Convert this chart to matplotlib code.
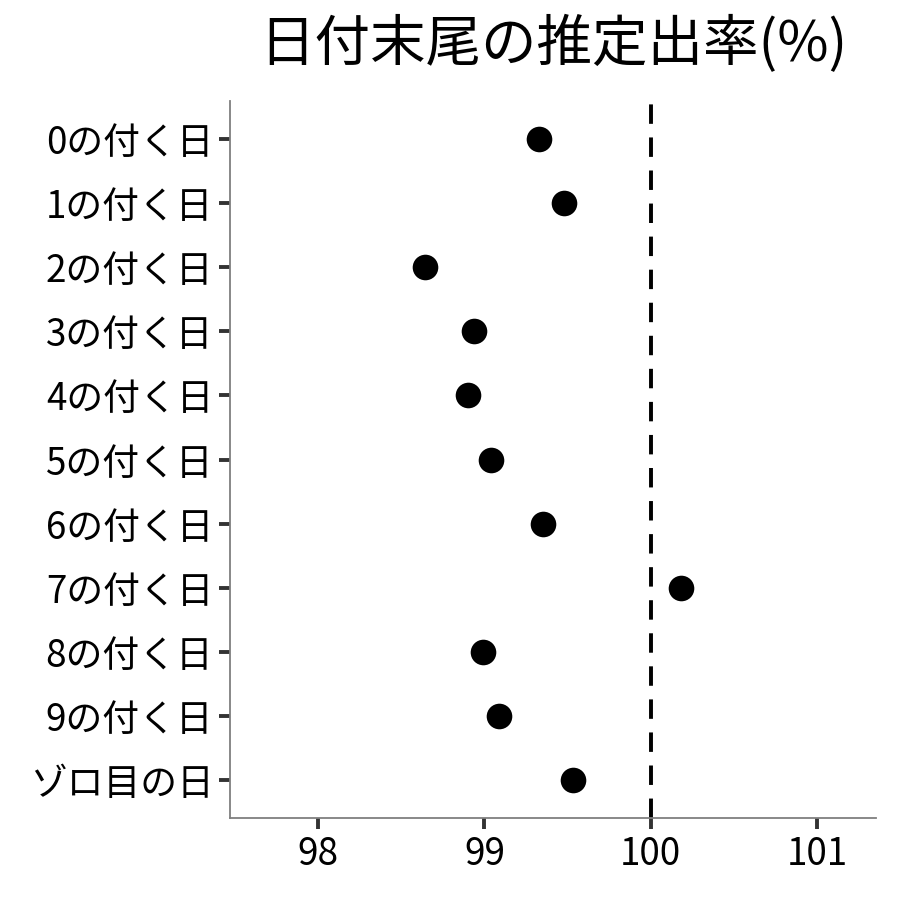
import matplotlib
matplotlib.use("Agg")
import matplotlib.pyplot as plt

plt.rcParams['font.family'] = ['Noto Sans CJK JP', 'DejaVu Sans']

labels = ["0の付く日", "1の付く日", "2の付く日", "3の付く日", "4の付く日", "5の付く日",
          "6の付く日", "7の付く日", "8の付く日", "9の付く日", "ゾロ目の日"]
rates = [99.33, 99.48, 98.64, 98.94, 98.90, 99.04, 99.35, 100.18, 98.99, 99.09, 99.53]
xticks = [98, 99, 100, 101]

fig = plt.figure(figsize=(9, 9), dpi=100)
ax = fig.add_axes([230/900, 82/900, 646/900, 717/900])

ypos = list(range(len(labels)))
ax.axvline(100, color="black", linestyle=(0, (5, 3.5)), linewidth=2.8, zorder=1)
ax.scatter(rates, ypos, s=340, color="black", zorder=3, linewidths=0)

ax.set_xlim(97.47, 101.355)
ax.set_ylim(len(labels) - 0.4, -0.6)
ax.set_yticks(ypos)
ax.set_yticklabels(labels)
ax.set_xticks(xticks)
ax.set_xticklabels([str(v) for v in xticks])

for s in ["top", "right"]:
    ax.spines[s].set_visible(False)
for s in ["left", "bottom"]:
    ax.spines[s].set_color("#7f7f7f")
    ax.spines[s].set_linewidth(1.3)

ax.tick_params(axis="both", length=8, width=2.8, color="#333333", labelsize=26.5, labelcolor="black", pad=4)

fig.text(553/900, 1 - 45/900, "日付末尾の推定出率(%)", ha="center", va="center", fontsize=40)

fig.savefig("out.png", dpi=100)
